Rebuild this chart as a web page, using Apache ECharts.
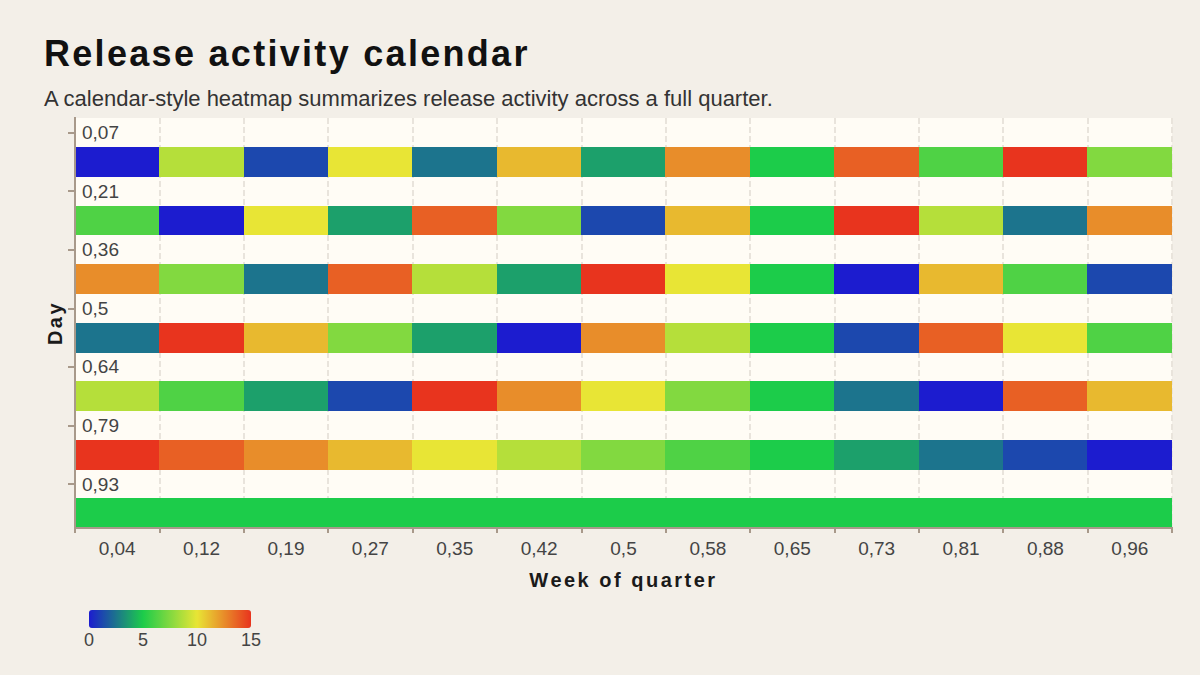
<!DOCTYPE html>
<html>
<head>
<meta charset="utf-8">
<title>Release activity calendar</title>
<script src="https://cdn.jsdelivr.net/npm/echarts@6/dist/echarts.min.js"></script>
<style>
  html, body { margin: 0; padding: 0; background: #f3efe8; }
  #chart { width: 1200px; height: 675px; }
  /* zrender has no letter spacing, the svg text picks it up from css */
  #chart text[style*="36px"] { letter-spacing: 2.3px; }
  #chart text[style*="20px"] { letter-spacing: 2.5px; }
  /* no hairline seams between neighbouring cells */
  #chart path { shape-rendering: crispEdges; }
</style>
</head>
<body>
<div id="chart"></div>
<script>
var weekLabels = ['0,04','0,12','0,19','0,27','0,35','0,42','0,5','0,58','0,65','0,73','0,81','0,88','0,96'];
var dayLabels = ['0,07','0,21','0,36','0,5','0,64','0,79','0,93'];

// activity per day row, one value per week column
var day1 = [0, 8.75, 1.25, 10, 2.5, 11.25, 3.75, 12.5, 5, 13.75, 6.25, 15, 7.5];
var day2 = [6.25, 0, 10, 3.75, 13.75, 7.5, 1.25, 11.25, 5, 15, 8.75, 2.5, 12.5];
var day3 = [12.5, 7.5, 2.5, 13.75, 8.75, 3.75, 15, 10, 5, 0, 11.25, 6.25, 1.25];
var day4 = [2.5, 15, 11.25, 7.5, 3.75, 0, 12.5, 8.75, 5, 1.25, 13.75, 10, 6.25];
var day5 = [8.75, 6.25, 3.75, 1.25, 15, 12.5, 10, 7.5, 5, 2.5, 0, 13.75, 11.25];
var day6 = [15, 13.75, 12.5, 11.25, 10, 8.75, 7.5, 6.25, 5, 3.75, 2.5, 1.25, 0];
var day7 = [5, 5, 5, 5, 5, 5, 5, 5, 5, 5, 5, 5, 5];

var scaleMin = 0;
var scaleMax = 15;
var scaleStep = 5;
var scaleColors = ['#1c1ccf', '#1ccc4a', '#e8e535', '#e8341e'];

var FONT = '"Liberation Sans", Arial, sans-serif';
var axisColor = '#a8998a';

// every day gets a label row and a cell row under it
var rows = [day1, day2, day3, day4, day5, day6, day7];
var yCats = [];
var cells = [];
for (var r = 0; r < rows.length; r++) {
  yCats.push(dayLabels[r]);
  yCats.push('');
  for (var c = 0; c < weekLabels.length; c++) {
    cells.push([c, r * 2 + 1, rows[r][c]]);
  }
}

var chart = echarts.init(document.getElementById('chart'), null, { renderer: 'svg' });

var option = {
  backgroundColor: '#f3efe8',
  animation: false,
  title: {
    text: 'Release activity calendar',
    subtext: 'A calendar-style heatmap summarizes release activity across a full quarter.',
    left: 44,
    top: 35,
    padding: 0,
    itemGap: 16,
    textStyle: { fontFamily: FONT, fontSize: 36, fontWeight: 'bold', color: '#111' },
    subtextStyle: { fontFamily: FONT, fontSize: 22, color: '#333' }
  },
  grid: [
    {
      left: 75, right: 28, top: 118, bottom: 147,
      show: true, backgroundColor: '#fffcf5', borderWidth: 0
    },
    { left: 89, top: 610, width: 162, height: 18 }
  ],
  xAxis: [
    {
      // drawn above the cells
      type: 'category',
      data: weekLabels,
      name: 'Week of quarter',
      nameLocation: 'middle',
      nameGap: 42,
      nameTextStyle: { fontFamily: FONT, fontSize: 20, fontWeight: 'bold', color: '#1a1a1a' },
      axisLine: { show: true, lineStyle: { color: axisColor, width: 2 } },
      axisTick: { show: true, length: 5, lineStyle: { color: axisColor, width: 2 } },
      axisLabel: { fontFamily: FONT, fontSize: 19, color: '#444', margin: 11 },
      splitLine: { show: false },
      z: 5
    },
    {
      type: 'value',
      gridIndex: 1,
      min: scaleMin,
      max: scaleMax,
      interval: scaleStep,
      axisLine: { show: false },
      axisTick: { show: false },
      splitLine: { show: false },
      axisLabel: { fontFamily: FONT, fontSize: 18, color: '#444', margin: 3 }
    },
    {
      // only the dashed week dividers, kept under the cells
      type: 'category',
      data: weekLabels,
      position: 'top',
      axisLine: { show: false },
      axisTick: { show: false },
      axisLabel: { show: false },
      splitLine: { show: true, lineStyle: { color: '#e9e4dc', type: 'dashed', width: 1.5 } }
    }
  ],
  yAxis: [
    {
      type: 'category',
      data: yCats,
      inverse: true,
      name: 'Day',
      nameLocation: 'middle',
      nameGap: 10,
      nameTextStyle: { fontFamily: FONT, fontSize: 20, fontWeight: 'bold', color: '#1a1a1a' },
      axisLine: { show: true, lineStyle: { color: axisColor, width: 2 } },
      axisTick: {
        show: true,
        length: 7,
        alignWithLabel: true,
        interval: function (i) { return i % 2 === 0; },
        lineStyle: { color: axisColor, width: 2 }
      },
      axisLabel: {
        inside: true,
        interval: 0,
        margin: 7,
        fontFamily: FONT, fontSize: 19, color: '#444'
      },
      splitLine: { show: false },
      z: 5
    },
    { type: 'value', gridIndex: 1, show: false, min: 0, max: 1 }
  ],
  visualMap: {
    type: 'continuous',
    seriesIndex: 0,
    min: scaleMin,
    max: scaleMax,
    orient: 'horizontal',
    left: 89,
    top: 610,
    padding: 0,
    itemWidth: 18,
    itemHeight: 162,
    calculable: false,
    inRange: { color: scaleColors }
  },
  series: [
    {
      type: 'heatmap',
      data: cells,
      emphasis: { disabled: true }
    }
  ]
};

chart.setOption(option);
</script>
</body>
</html>
